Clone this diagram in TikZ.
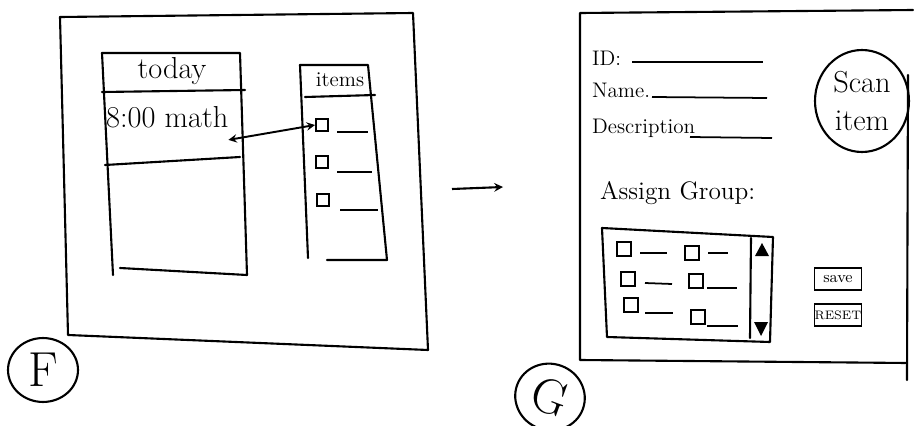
\documentclass[tikz,border=0pt]{standalone}
\usepackage{amsmath,amssymb}
\usepackage{xcolor}
\usetikzlibrary{shapes.geometric,arrows,positioning}

\begin{document}
\begin{tikzpicture}[
    x=0.02cm, y=-0.02cm,
    sketch/.style={line width=1.2pt, line join=round, line cap=round},
    label/.style={inner sep=1pt, anchor=west},
    checkbox/.style={draw, line width=1.1pt, minimum size=0.24cm, inner sep=0pt},
    blank/.style={line width=1pt},
    button/.style={draw, line width=1pt, minimum width=0.94cm, minimum height=0.44cm, inner sep=0pt, font=\scriptsize},
    tag/.style={draw, ellipse, line width=1.2pt, minimum width=1.4cm, minimum height=1.2cm, font=\fontsize{28}{30}\selectfont},
    arrow/.style={line width=1.2pt,->,>=stealth},
    duo/.style={line width=1.1pt,<->,>=stealth}
]
\useasboundingbox (0,0) rectangle (914,426);

% Screen F: outer frame
\draw[sketch] (60,17) -- (413,13) -- (428,350) -- (68,335) -- cycle;

% today list
\draw[sketch] (102,53) -- (240,53) -- (247,275) -- (120,268);
\draw[sketch] (102,53) -- (113,275);
\draw[sketch] (102,92) -- (245,90);
\draw[sketch] (105,165) -- (240,157);
\node[font=\LARGE] (today) at (172,71) {today};
\node[label, font=\LARGE] (math) at (104,117) {8:00 math};

% items list
\draw[sketch] (300,65) -- (368,65) -- (387,260) -- (327,260);
\draw[sketch] (300,65) -- (308,258);
\draw[sketch] (305,97) -- (375,95);
\node[font=\large] (items) at (340,80) {items};
\node[checkbox] (chk1) at (322,125) {};
\node[checkbox] (chk2) at (322,162) {};
\node[checkbox] (chk3) at (323,200) {};
\draw[blank] (337,132) -- (368,132);
\draw[blank] (337,172) -- (372,172);
\draw[blank] (340,210) -- (378,210);
\draw[duo] (math.south east) ++(-2,10) coordinate (slot) -- (chk1.west);

% F badge
\node[tag] (badgeF) at (43,370) {F};

% Transition arrow
\coordinate (from) at (452,189);
\coordinate (to) at (503,187);
\draw[arrow] (from) -- (to);

% Screen G: outer frame
\draw[sketch] (913,10) -- (580,13) -- (580,360) -- (907,363);
\draw[sketch] (908,75) -- (907,380);

% form fields
\node[label, font=\large] (id) at (590,58) {ID:};
\node[label, font=\large] (name) at (590,90) {Name.};
\node[label, font=\large] (desc) at (590,128) {Description};
\draw[blank] (632,62) -- (763,62);
\draw[blank] (652,97) -- (767,98);
\draw[blank] (690,137) -- (772,138);
\node[draw, ellipse, line width=1.2pt, minimum width=1.88cm, minimum height=2.04cm,
      align=center, font=\LARGE, inner sep=0pt] (scan) at (862,101) {Scan\\item};
\node[label, font=\Large] (assign) at (598,193) {Assign Group:};

% group list with scroll bar
\draw[sketch] (602,228) -- (773,237) -- (770,342) -- (607,337) -- cycle;
\draw[sketch] (751,238) -- (750,338);
\fill (755,256) -- (769,256) -- (762,243) -- cycle;
\fill (754,322) -- (768,322) -- (761,336) -- cycle;
\node[checkbox, minimum size=0.28cm] (grp1) at (624,249) {};
\node[checkbox, minimum size=0.28cm] (grp2) at (628,279) {};
\node[checkbox, minimum size=0.28cm] (grp3) at (631,305) {};
\node[checkbox, minimum size=0.28cm] (grp4) at (692,253) {};
\node[checkbox, minimum size=0.28cm] (grp5) at (696,281) {};
\node[checkbox, minimum size=0.28cm] (grp6) at (698,317) {};
\draw[blank] (640,253) -- (667,253);
\draw[blank] (645,283) -- (672,284);
\draw[blank] (645,313) -- (673,313);
\draw[blank] (708,253) -- (728,253);
\draw[blank] (707,288) -- (737,288);
\draw[blank] (707,326) -- (738,326);

% buttons
\node[button, font=\small] (save) at (838,279) {save};
\node[button] (reset) at (838,315) {RESET};

% G badge
\node[tag, rotate=-20] (badgeG) at (550,397) {G};

\end{tikzpicture}
\end{document}
